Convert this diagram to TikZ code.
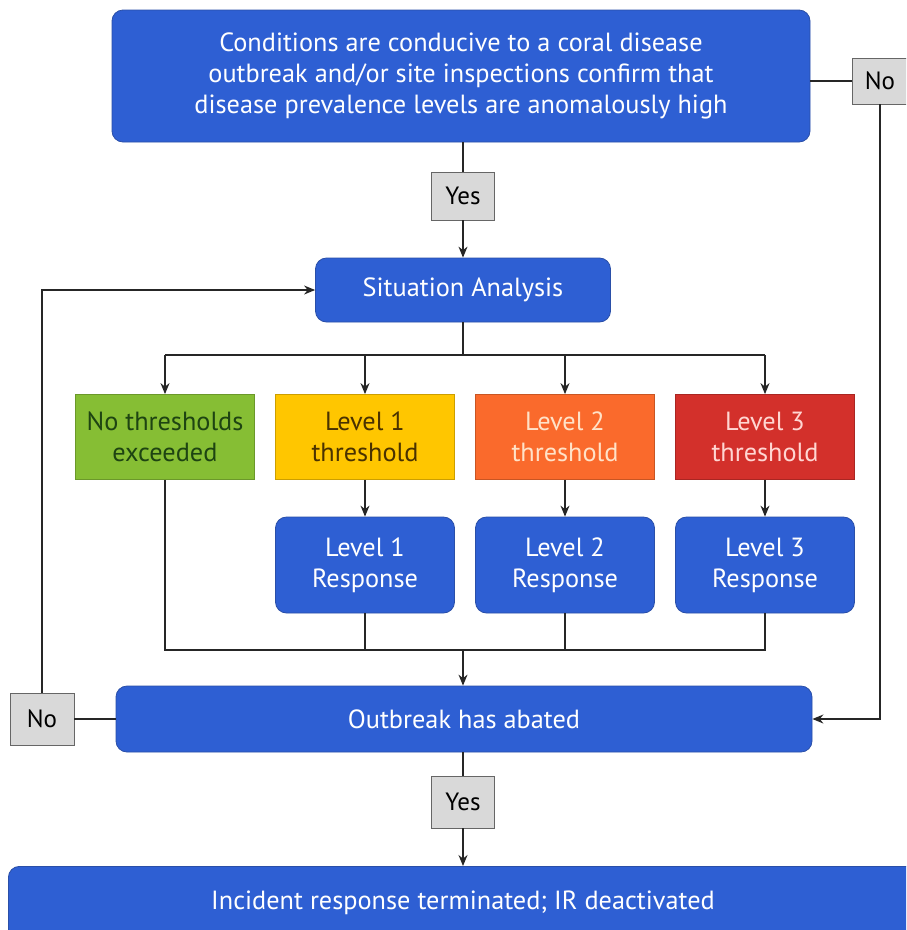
\documentclass[tikz,border=0pt]{standalone}
\usepackage{fontspec}
\setmainfont{PT Sans}
\usetikzlibrary{arrows.meta}
\definecolor{boxblue}{HTML}{2E5FD3}
\definecolor{boxblueedge}{HTML}{2A4FA8}
\definecolor{lgreen}{HTML}{86BE34}
\definecolor{lgreentxt}{HTML}{1E4412}
\definecolor{lyellow}{HTML}{FFC600}
\definecolor{lyellowtxt}{HTML}{4A3200}
\definecolor{lorange}{HTML}{FA6A2C}
\definecolor{lorangetxt}{HTML}{FFE2C8}
\definecolor{lred}{HTML}{D3302B}
\definecolor{lredtxt}{HTML}{FFD6D2}
\definecolor{gbox}{HTML}{D9D9D9}
\begin{document}
\begin{tikzpicture}[x=1pt,y=-1pt,
  bluebox/.style={draw=boxblueedge,line width=0.8pt,fill=boxblue,rounded corners=11pt,text=white,font=\fontsize{26.3}{31}\selectfont,align=center,inner sep=0pt},
  thbox/.style={draw=#1!80!black,line width=0.8pt,fill=#1,align=center,inner sep=0pt,font=\fontsize{26.3}{31}\selectfont},
  ynbox/.style={draw=gray!80!black,line width=0.8pt,fill=gbox,font=\fontsize{25}{28}\selectfont,inner sep=0pt},
  conn/.style={line width=1.3pt,black!85},
  arr/.style={conn,-{Stealth[length=11pt,width=9pt]}}]
\clip (0,0) rectangle (906,930);
\fill[white] (0,0) rectangle (906,930);
% top
\node[bluebox,minimum width=698pt,minimum height=132pt] (top) at (461,76) {Conditions are conducive to a coral disease\\outbreak and/or site inspections confirm that\\disease prevalence levels are anomalously high};
\node[ynbox,minimum width=56pt,minimum height=46pt] (no1) at (880,81) {No};
\node[ynbox,minimum width=63pt,minimum height=48pt] (yes1) at (463,196) {Yes};
\node[bluebox,minimum width=295pt,minimum height=64pt] (sa) at (463,290) {Situation Analysis};
% thresholds
\node[thbox=lgreen,text=lgreentxt,minimum width=179pt,minimum height=85pt] (t0) at (165,437) {No thresholds\\exceeded};
\node[thbox=lyellow,text=lyellowtxt,minimum width=179pt,minimum height=85pt] (t1) at (365,437) {Level 1\\threshold};
\node[thbox=lorange,text=lorangetxt,minimum width=179pt,minimum height=85pt] (t2) at (565,437) {Level 2\\threshold};
\node[thbox=lred,text=lredtxt,minimum width=179pt,minimum height=85pt] (t3) at (765,437) {Level 3\\threshold};
% responses
\node[bluebox,minimum width=179pt,minimum height=96pt] (r1) at (365,565) {Level 1\\Response};
\node[bluebox,minimum width=179pt,minimum height=96pt] (r2) at (565,565) {Level 2\\Response};
\node[bluebox,minimum width=179pt,minimum height=96pt] (r3) at (765,565) {Level 3\\Response};
% outbreak
\node[bluebox,minimum width=696pt,minimum height=66pt] (ob) at (464,719) {Outbreak has abated};
\node[ynbox,minimum width=64pt,minimum height=52pt] (no2) at (42,719) {No};
\node[ynbox,minimum width=63pt,minimum height=52pt] (yes2) at (463,802) {Yes};
\node[bluebox,minimum width=920pt,minimum height=90pt,anchor=north west] (fin) at (8,866) {};
\node[text=white,font=\fontsize{26.3}{31}\selectfont] (fintxt) at (463,903) {Incident response terminated; IR deactivated};
% coordinates
\coordinate (split) at (463,355);
\coordinate (join) at (463,650);
% connectors
\draw[conn] (top.east |- no1) -- (no1.west);
\draw[arr] (no1.south) |- (ob.east);
\draw[conn] (top.south -| yes1) -- (yes1.north);
\draw[arr] (yes1.south) -- (sa.north -| yes1);
\draw[conn] (sa.south -| split) -- (split);
\draw[conn] (t0.north |- split) -- (t3.north |- split);
\foreach \t in {t0,t1,t2,t3} \draw[arr] (\t.north |- split) -- (\t.north);
\foreach \a/\b in {t1/r1,t2/r2,t3/r3} \draw[arr] (\a.south) -- (\b.north);
\draw[conn] (t0.south) -- (t0.south |- join) -- (r3.south |- join) -- (r3.south);
\draw[conn] (r1.south) -- (r1.south |- join);
\draw[conn] (r2.south) -- (r2.south |- join);
\draw[arr] (join) -- (ob.north -| join);
\draw[conn] (ob.west) -- (no2.east);
\draw[arr] (no2.north) |- (sa.west);
\draw[conn] (ob.south -| yes2) -- (yes2.north);
\draw[arr] (yes2.south) -- (fin.north -| yes2);
\end{tikzpicture}
\end{document}
